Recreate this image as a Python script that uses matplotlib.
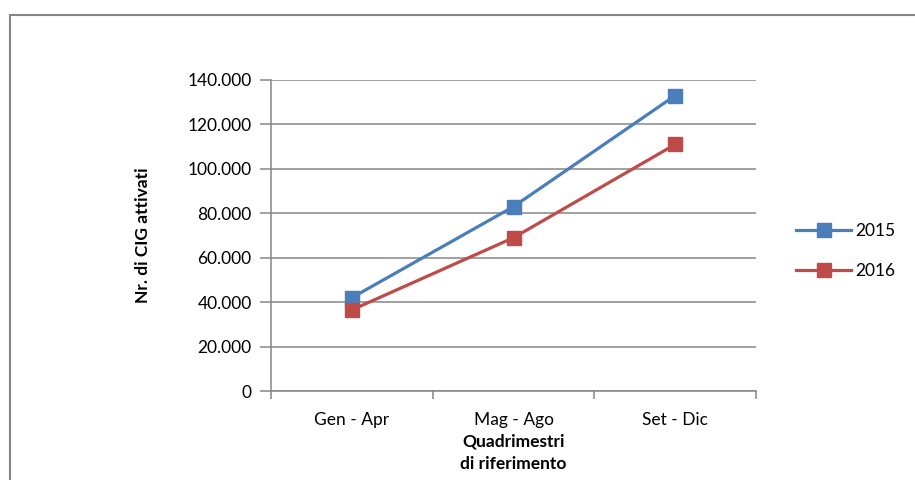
import matplotlib.pyplot as plt
from matplotlib.patches import Rectangle
from matplotlib.ticker import FuncFormatter

plt.rcParams["font.family"] = ["Lato", "DejaVu Sans"]

categories = ["Gen - Apr", "Mag - Ago", "Set - Dic"]
series_2015 = [42000, 83000, 133000]
series_2016 = [36500, 69000, 111000]
y_ticks = [0, 20000, 40000, 60000, 80000, 100000, 120000, 140000]

fig = plt.figure(figsize=(9.15, 4.8), dpi=100)

# outer chart border (cut off on right and bottom in the original)
fig.patches.append(Rectangle((10 / 915, -0.1), 1.0, 1 - 15 / 480 + 0.1,
                             transform=fig.transFigure, fill=False,
                             edgecolor="#868686", linewidth=1.5))

ax = fig.add_axes([271 / 915, 1 - 391 / 480, (756 - 271) / 915, (391 - 80) / 480])

x = range(len(categories))
ax.plot(x, series_2015, color="#4A7EBB", linewidth=2.3, marker="s",
        markersize=10, label="2015")
ax.plot(x, series_2016, color="#BE4B48", linewidth=2.3, marker="s",
        markersize=10, label="2016")

ax.set_xlim(-0.5, 2.5)
ax.set_ylim(0, 140000)
ax.set_yticks(y_ticks)
ax.yaxis.set_major_formatter(FuncFormatter(lambda v, p: f"{int(v):,}".replace(",", ".")))
ax.grid(axis="y", color="#868686", linewidth=1.1)
ax.set_axisbelow(True)

ax.set_xticks(list(x))
ax.set_xticklabels(categories)
ax.set_xticks([-0.5, 0.5, 1.5, 2.5], minor=True)
ax.tick_params(axis="x", which="major", length=0, pad=15, labelsize=12.5)
ax.tick_params(axis="x", which="minor", length=6, width=1.1, color="#868686")
ax.tick_params(axis="y", length=8, width=1.1, color="#868686", pad=6, labelsize=12.5)

for side in ["top", "right"]:
    ax.spines[side].set_visible(False)
for side in ["left", "bottom"]:
    ax.spines[side].set_color("#868686")
    ax.spines[side].set_linewidth(1.1)

ax.set_ylabel("Nr. di CIG attivati", fontsize=12.5, fontweight="bold", labelpad=26)
ax.set_xlabel("Quadrimestri\ndi riferimento", fontsize=12.5, fontweight="bold",
              labelpad=4, linespacing=1.5)

ax.legend(loc="center left", bbox_to_anchor=(1.05, 0.45), frameon=False,
          fontsize=12.5, handlelength=3.2, handletextpad=0.2, labelspacing=1.4)

fig.savefig("out.png", dpi=100)
